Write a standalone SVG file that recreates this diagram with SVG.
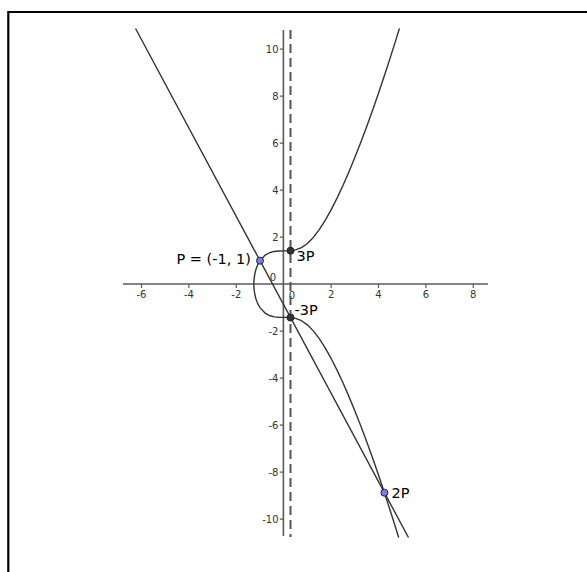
<svg xmlns="http://www.w3.org/2000/svg" width="587" height="572" viewBox="0 0 587 572">
<style>
.frame{fill:none;stroke:#000;stroke-width:2.2}
.axis{fill:none;stroke:#5a5a5a;stroke-width:1.6}
.tick{fill:none;stroke:#5a5a5a;stroke-width:1.2}
.tl{font-family:"DejaVu Sans",sans-serif;font-size:10px;fill:#333}
.tlx{text-anchor:middle}
.tly{text-anchor:end}
.curve{fill:none;stroke:#333;stroke-width:1.4;stroke-linejoin:round;stroke-linecap:round}
.dash{fill:none;stroke:#555;stroke-width:2;stroke-dasharray:9 5}
.lbl{font-family:"DejaVu Sans",sans-serif;font-size:14.5px;fill:#000}
.ptb{fill:#7b7bff;stroke:#222;stroke-width:1}
.ptk{fill:#333;stroke:#222;stroke-width:1}
</style>
<rect x="0" y="0" width="587" height="572" fill="#fff"/>
<path class="frame" d="M8.3,572 V12 H587"/>
<g id="axes">
<line class="axis" x1="123" y1="284" x2="488" y2="284"/>
<line class="axis" x1="283.4" y1="30" x2="283.4" y2="536"/>
<g id="xticks">
<path class="tick" d="M141.5,284V288M188.9,284V288M236.3,284V288M331.1,284V288M378.5,284V288M425.9,284V288M473.3,284V288"/>
<text class="tl tlx" x="141.5" y="298.3">-6</text>
<text class="tl tlx" x="188.9" y="298.3">-4</text>
<text class="tl tlx" x="236.3" y="298.3">-2</text>
<text class="tl tlx" x="292" y="298.5">0</text>
<text class="tl tlx" x="331.1" y="298.3">2</text>
<text class="tl tlx" x="378.5" y="298.3">4</text>
<text class="tl tlx" x="425.9" y="298.3">6</text>
<text class="tl tlx" x="473.3" y="298.3">8</text>
</g>
<g id="yticks">
<path class="tick" d="M279.8,49.15H283.4M279.8,96.15H283.4M279.8,143.15H283.4M279.8,190.15H283.4M279.8,237.15H283.4M279.8,331.15H283.4M279.8,378.15H283.4M279.8,425.15H283.4M279.8,472.15H283.4M279.8,519.15H283.4"/>
<text class="tl tly" x="278.5" y="52.8">10</text>
<text class="tl tly" x="278.5" y="99.8">8</text>
<text class="tl tly" x="278.5" y="146.8">6</text>
<text class="tl tly" x="278.5" y="193.8">4</text>
<text class="tl tly" x="278.5" y="240.8">2</text>
<text class="tl tlx" x="273" y="280.5">0</text>
<text class="tl tly" x="278.5" y="334.8">-2</text>
<text class="tl tly" x="278.5" y="381.8">-4</text>
<text class="tl tly" x="278.5" y="428.8">-6</text>
<text class="tl tly" x="278.5" y="475.8">-8</text>
<text class="tl tly" x="278.5" y="522.8">-10</text>
</g>
</g>
<g id="connectors">
<line id="asymptote" class="dash" x1="290.5" y1="30" x2="290.5" y2="537"/>
<line id="chord" class="curve" x1="135.8" y1="29" x2="408.2" y2="537"/>
<polyline id="ellipticCurve" class="curve" points="399.24,29.03 396.28,38.61 390.35,57.37 384.43,75.59 378.5,93.24 372.58,110.29 366.65,126.73 360.73,142.51 354.8,157.6 348.88,171.95 342.95,185.49 337.03,198.16 331.1,209.84 325.18,220.4 319.25,229.67 313.33,237.43 307.4,243.45 301.48,247.58 295.55,249.89 289.63,250.79 283.7,250.92 278.96,250.98 274.22,251.45 269.48,252.76 264.74,255.48 260,260.65 257.63,264.93 255.73,270.11 254.79,274.07 254.08,279.06 253.88,281.91 253.84,284.15 253.88,286.39 254.08,289.24 254.79,294.23 255.73,298.19 257.63,303.37 260,307.65 264.74,312.82 269.48,315.54 274.22,316.85 278.96,317.32 283.7,317.38 289.63,317.51 295.55,318.41 301.48,320.72 307.4,324.85 313.33,330.87 319.25,338.63 325.18,347.9 331.1,358.46 337.03,370.14 342.95,382.81 348.88,396.35 354.8,410.7 360.73,425.79 366.65,441.57 372.58,458.01 378.5,475.06 384.43,492.71 390.35,510.93 396.28,529.69 398.55,537"/>
</g>
<g id="P">
<circle class="ptb" cx="260" cy="260.65" r="3.5"/>
<text class="lbl" x="176.5" y="263.5">P = (-1, 1)</text>
</g>
<g id="P3">
<circle class="ptk" cx="290.5" cy="250.7" r="3.5"/>
<text class="lbl" x="296.5" y="261">3P</text>
</g>
<g id="Pm3">
<circle class="ptk" cx="290.5" cy="317.6" r="3.5"/>
<text class="lbl" x="294.5" y="315">-3P</text>
</g>
<g id="P2">
<circle class="ptb" cx="384.4" cy="492.7" r="3.5"/>
<text class="lbl" x="391.5" y="497.5">2P</text>
</g>
</svg>
